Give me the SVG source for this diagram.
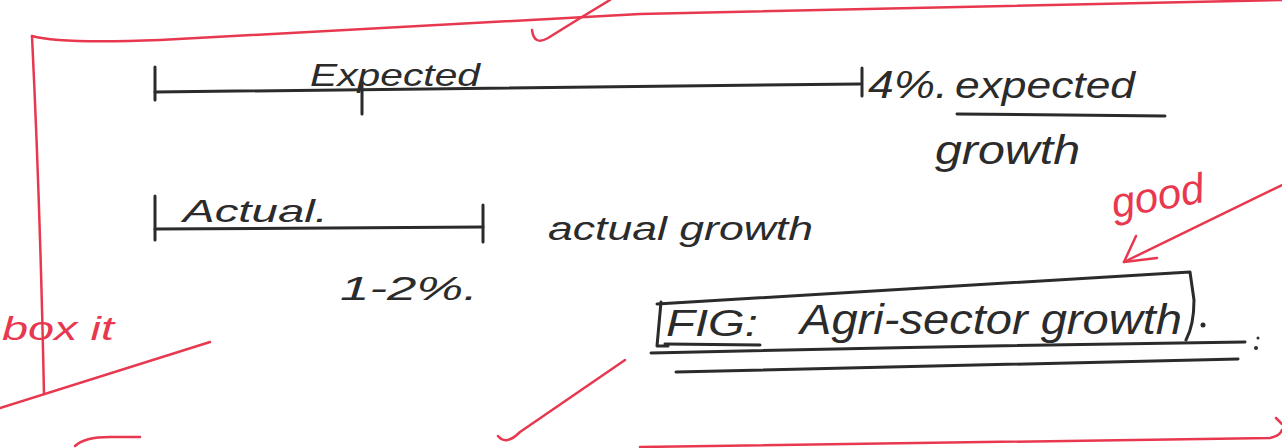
<svg xmlns="http://www.w3.org/2000/svg" width="1282" height="448" viewBox="0 0 1282 448">
  <style>
    .ink { fill: none; stroke: #2b2b2b; stroke-width: 3; stroke-linecap: round; stroke-linejoin: round; }
    .red { fill: none; stroke: #e8384f; stroke-width: 2.5; stroke-linecap: round; stroke-linejoin: round; }
    .hand { font-family: "Liberation Sans", "DejaVu Sans", sans-serif; font-style: italic; fill: #2b2b2b; }
    .redtxt { font-family: "Liberation Sans", "DejaVu Sans", sans-serif; font-style: italic; fill: #e8384f; }
  </style>
  <rect width="1282" height="448" fill="#ffffff"/>

  <!-- red marking frame and ticks -->
  <g id="marking">
    <path class="red" d="M32,36 Q60,44 160,40 Q400,28 640,14 Q1000,6 1282,0"/>
    <path class="red" d="M32,36 Q40,200 44,394"/>
    <path class="red" d="M0,408 L210,342"/>
    <path class="red" d="M532,30 Q534,46 548,38 Q580,18 610,0"/>
    <path class="red" d="M1282,185 L1124,262"/>
    <path class="red" d="M1124,262 L1157,258 M1124,262 L1136,236"/>
    <path class="red" d="M498,436 Q506,446 520,432 L625,360"/>
    <path class="red" d="M75,446 Q85,436 115,437 L140,437"/>
    <path class="red" d="M640,447 Q950,442 1270,438 Q1280,436 1282,430"/>
    <path class="red" d="M1276,418 L1282,424"/>
    <text class="redtxt" x="1114" y="218" font-size="42" transform="rotate(-10 1114 218)">good</text>
    <text class="redtxt" x="2" y="340" font-size="34" textLength="112" lengthAdjust="spacingAndGlyphs">box it</text>
  </g>

  <!-- expected growth bar -->
  <g id="expected">
    <path class="ink" d="M155,67 L155,100"/>
    <path class="ink" d="M155,92 Q500,88 860,84"/>
    <path class="ink" d="M362,82 L362,114"/>
    <path class="ink" d="M862,68 L862,96"/>
    <text class="hand" x="310" y="86" font-size="32" textLength="170" lengthAdjust="spacingAndGlyphs">Expected</text>
    <text class="hand" x="868" y="98" font-size="38" textLength="80" lengthAdjust="spacingAndGlyphs">4%.</text>
    <text class="hand" x="955" y="98" font-size="36" textLength="180" lengthAdjust="spacingAndGlyphs">expected</text>
    <path class="ink" d="M957,114 L1165,116"/>
    <text class="hand" x="935" y="164" font-size="40" textLength="145" lengthAdjust="spacingAndGlyphs">growth</text>
  </g>

  <!-- actual growth bar -->
  <g id="actual">
    <path class="ink" d="M155,196 L155,240"/>
    <path class="ink" d="M155,229 L483,227"/>
    <path class="ink" d="M483,205 L483,242"/>
    <text class="hand" x="183" y="222" font-size="32" textLength="145" lengthAdjust="spacingAndGlyphs">Actual.</text>
    <text class="hand" x="548" y="240" font-size="34" textLength="265" lengthAdjust="spacingAndGlyphs">actual growth</text>
    <text class="hand" x="340" y="300" font-size="34" textLength="138" lengthAdjust="spacingAndGlyphs">1-2%.</text>
  </g>

  <!-- boxed caption -->
  <g id="caption">
    <path class="ink" d="M661,302 L657,346 L668,346"/>
    <path class="ink" d="M657,304 Q900,290 1190,272 L1194,300 Q1194,325 1186,340"/>
    <path class="ink" d="M651,353 Q950,346 1245,342"/>
    <path class="ink" d="M676,372 Q950,366 1238,359"/>
    <path class="ink" d="M665,344 L760,345"/>
    <text class="hand" x="666" y="336" font-size="36" textLength="92" lengthAdjust="spacingAndGlyphs">FIG:</text>
    <text class="hand" x="800" y="334" font-size="42" textLength="382" lengthAdjust="spacingAndGlyphs">Agri-sector growth</text>
    <circle cx="1203" cy="325" r="2.5" fill="#2b2b2b"/>
    <circle cx="1256" cy="348" r="2" fill="#2b2b2b"/>
    <circle cx="1258" cy="338" r="1.5" fill="#2b2b2b"/>
  </g>
</svg>
